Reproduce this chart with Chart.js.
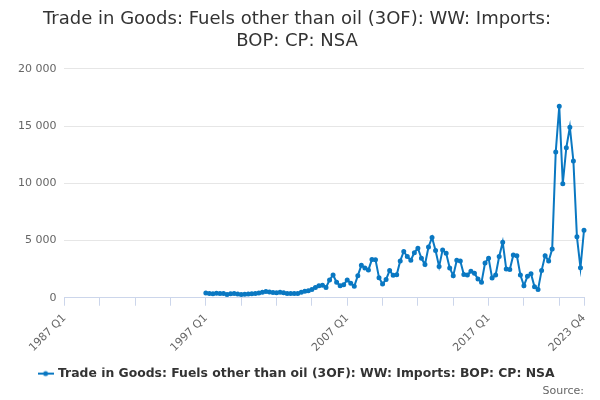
<!DOCTYPE html>
<html>
<head>
<meta charset="utf-8">
<script src="https://cdn.jsdelivr.net/npm/chart.js@4/dist/chart.umd.min.js"></script>
<style>
  body { margin: 0; background: #fff; }
  #wrap { width: 600px; height: 400px; }
</style>
</head>
<body>
<div id="wrap"><canvas id="chart"></canvas></div>
<script>
// quarters from 1987 Q1 to 2023 Q4
const firstYear = 1987;
const lastYear = 2023;

// values start at 1997 Q1 (nothing before that)
const dataStartYear = 1997;
const imports = [
    420, 380, 350, 390, 370, 360, 290, 340, 360, 320,
    290, 300, 330, 350, 380, 410, 480, 550, 500, 460,
    440, 470, 430, 380, 370, 380, 360, 480, 560, 620,
    730, 900, 1050, 1100, 900, 1550, 1990, 1350, 1050, 1140,
    1550, 1260, 1000, 1930, 2830, 2600, 2430, 3350, 3330, 1750,
    1200, 1600, 2370, 1960, 2000, 3220, 4040, 3600, 3280, 3940,
    4330, 3450, 2900, 4440, 5270, 4120, 2720, 4180, 3880, 2600,
    1930, 3280, 3200, 2020, 1990, 2310, 2130, 1640, 1345, 3040,
    3460, 1720, 1990, 3600, 4850, 2510, 2460, 3740, 3680, 1990,
    1050, 1870, 2100, 950, 730, 2370, 3680, 3200, 4260, 12730,
    16740, 9970, 13110, 14910, 11950, 5320, 2620, 5900
];

const yTicks = [0, 5000, 10000, 15000, 20000];
const seriesName = "Trade in Goods: Fuels other than oil (3OF): WW: Imports: BOP: CP: NSA";

// build labels
let labels = [];
for (let y = firstYear; y <= lastYear; y++) {
    for (let q = 1; q <= 4; q++) {
        labels.push(y + " Q" + q);
    }
}

// pad with nulls before the data starts
const offset = (dataStartYear - firstYear) * 4;
let values = labels.map((l, i) => (i < offset ? null : imports[i - offset]));

const lineColor = "#0a78c2";
const last = labels.length - 1;

function fmt(v) {
    return String(v).replace(/\B(?=(\d{3})+(?!\d))/g, " ");
}

// legend symbol: short line with a dot in the middle
const sym = document.createElement("canvas");
sym.width = 16;
sym.height = 8;
const sctx = sym.getContext("2d");
sctx.strokeStyle = lineColor;
sctx.lineWidth = 2;
sctx.beginPath();
sctx.moveTo(0, 4);
sctx.lineTo(16, 4);
sctx.stroke();
sctx.fillStyle = lineColor;
sctx.beginPath();
sctx.arc(8, 4, 2.5, 0, Math.PI * 2);
sctx.fill();

const ctx = document.getElementById("chart").getContext("2d");
new Chart(ctx, {
    type: "line",
    data: {
        labels: labels,
        datasets: [{
            label: seriesName,
            data: values,
            borderColor: lineColor,
            backgroundColor: lineColor,
            borderWidth: 2,
            pointRadius: 1.5,
            pointHoverRadius: 3,
            tension: 0,
            spanGaps: false
        }]
    },
    options: {
        responsive: true,
        maintainAspectRatio: false,
        animation: false,
        font: { family: "'DejaVu Sans', sans-serif" },
        layout: { padding: { left: 10, right: 16, top: 4, bottom: 2 } },
        plugins: {
            title: {
                display: true,
                text: ["Trade in Goods: Fuels other than oil (3OF): WW: Imports:", "BOP: CP: NSA"],
                color: "#333",
                font: { family: "'DejaVu Sans', sans-serif", size: 18, weight: "normal", lineHeight: 1.22 },
                padding: { top: 4, bottom: 17 }
            },
            subtitle: {
                display: true,
                position: "bottom",
                align: "end",
                text: "Source:",
                color: "#666",
                font: { family: "'DejaVu Sans', sans-serif", size: 11 },
                // negative top pulls the legend a bit closer to the source line
                padding: { top: -5, bottom: 0 }
            },
            legend: {
                position: "bottom",
                labels: {
                    usePointStyle: true,
                    pointStyle: sym,
                    color: "#333",
                    font: { family: "'DejaVu Sans', sans-serif", size: 12.4, weight: "bold" },
                    padding: 0
                }
            },
            tooltip: { enabled: false }
        },
        scales: {
            x: {
                type: "category",
                grid: {
                    drawOnChartArea: false,
                    drawTicks: true,
                    tickLength: 8,
                    color: "#ccd6eb"
                },
                border: { color: "#ccd6eb" },
                ticks: {
                    autoSkip: false,
                    minRotation: 45,
                    maxRotation: 45,
                    color: "#666",
                    padding: 6,
                    font: { family: "'DejaVu Sans', sans-serif", size: 11 },
                    callback: function (val, i) {
                        if (i === last || i % 40 === 0) return labels[i];
                        if (i % 10 === 0) return "";
                        return null;
                    }
                },
                // leave a gap between the rotated labels and the legend
                afterFit: function (scale) {
                    scale.height += 7;
                }
            },
            y: {
                min: 0,
                max: 20000,
                afterBuildTicks: function (axis) {
                    axis.ticks = yTicks.map(v => ({ value: v }));
                },
                grid: { color: "#e6e6e6", drawTicks: false },
                border: { display: false },
                ticks: {
                    color: "#666",
                    padding: 8,
                    font: { family: "'DejaVu Sans', sans-serif", size: 11 },
                    callback: function (v) { return fmt(v); }
                }
            }
        }
    }
});
</script>
</body>
</html>
